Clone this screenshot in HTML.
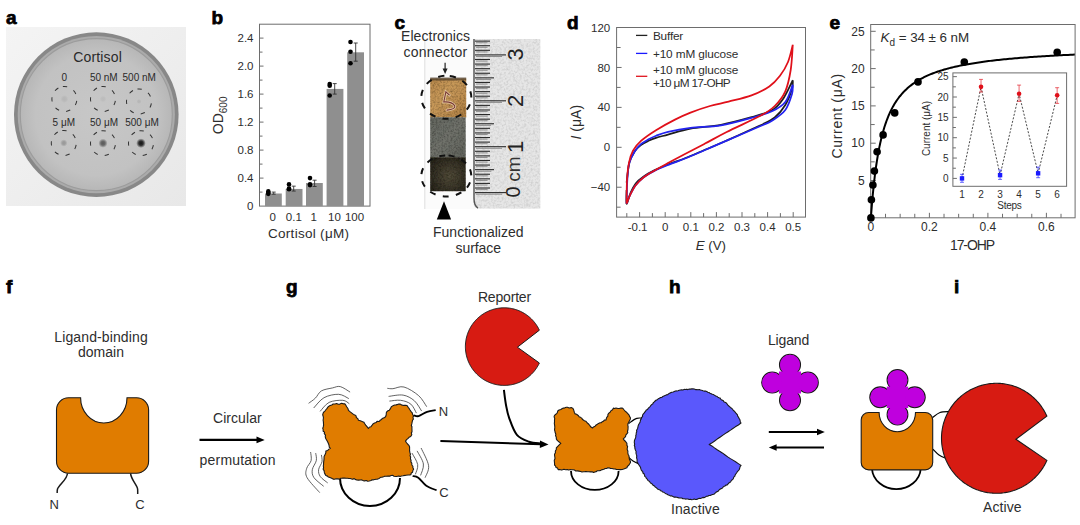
<!DOCTYPE html>
<html><head><meta charset="utf-8"><style>
html,body{margin:0;padding:0;background:#fff;width:1080px;height:525px;overflow:hidden}
svg{display:block;font-family:"Liberation Sans", sans-serif}
</style></head><body>
<svg width="1080" height="525" viewBox="0 0 1080 525">
<text x="6" y="24.1" font-size="19" font-weight="bold" fill="#000" stroke="#000" stroke-width="0.75">a</text>
<text x="211.5" y="24.2" font-size="19" font-weight="bold" fill="#000" stroke="#000" stroke-width="0.75">b</text>
<text x="394.5" y="28.6" font-size="19" font-weight="bold" fill="#000" stroke="#000" stroke-width="0.75">c</text>
<text x="567" y="29.1" font-size="19" font-weight="bold" fill="#000" stroke="#000" stroke-width="0.75">d</text>
<text x="829.5" y="29.3" font-size="19" font-weight="bold" fill="#000" stroke="#000" stroke-width="0.75">e</text>
<text x="6" y="292.8" font-size="19" font-weight="bold" fill="#000" stroke="#000" stroke-width="0.75">f</text>
<text x="286" y="292.8" font-size="19" font-weight="bold" fill="#000" stroke="#000" stroke-width="0.75">g</text>
<text x="669" y="292.9" font-size="19" font-weight="bold" fill="#000" stroke="#000" stroke-width="0.75">h</text>
<text x="954" y="292.9" font-size="19" font-weight="bold" fill="#000" stroke="#000" stroke-width="0.75">i</text>
<defs>
<linearGradient id="bgA" x1="0" y1="0" x2="1" y2="1"><stop offset="0" stop-color="#f4f4f4"/><stop offset="1" stop-color="#e8e8e8"/></linearGradient>
<radialGradient id="plate" cx="0.5" cy="0.5" r="0.5"><stop offset="0" stop-color="#c7c7c7"/><stop offset="0.8" stop-color="#c2c2c2"/><stop offset="1" stop-color="#b7b7b7"/></radialGradient>
<radialGradient id="spot" cx="0.5" cy="0.5" r="0.5"><stop offset="0" stop-color="#000" stop-opacity="1"/><stop offset="0.45" stop-color="#000" stop-opacity="0.85"/><stop offset="1" stop-color="#000" stop-opacity="0"/></radialGradient>
</defs>
<rect x="6" y="27" width="180" height="179" fill="url(#bgA)"/>
<circle cx="96.3" cy="114.6" r="82.3" fill="#888"/>
<circle cx="96.3" cy="114.6" r="78.6" fill="#ababab"/>
<circle cx="96.3" cy="114.6" r="76" fill="url(#plate)" stroke="#9c9c9c" stroke-width="1.1"/>
<text x="97.5" y="61.6" font-size="14" text-anchor="middle" font-weight="normal" fill="#2a2a2a" textLength="48.5">Cortisol</text>
<text x="64.2" y="80.6" font-size="10" text-anchor="middle" font-weight="normal" fill="#2a2a2a" >0</text>
<text x="103.8" y="80.6" font-size="10" text-anchor="middle" font-weight="normal" fill="#2a2a2a" >50 nM</text>
<text x="139.2" y="80.6" font-size="10" text-anchor="middle" font-weight="normal" fill="#2a2a2a" >500 nM</text>
<text x="63.8" y="125.7" font-size="10" text-anchor="middle" font-weight="normal" fill="#2a2a2a" >5 μM</text>
<text x="104" y="125.7" font-size="10" text-anchor="middle" font-weight="normal" fill="#2a2a2a" >50 μM</text>
<text x="142" y="125.7" font-size="10" text-anchor="middle" font-weight="normal" fill="#2a2a2a" >500 μM</text>
<circle cx="64.4" cy="99" r="12.5" fill="none" stroke="#333" stroke-width="1" stroke-dasharray="4.3 7.2" transform="rotate(-97 64.4 99)"/>
<circle cx="64.4" cy="99" r="4.02" fill="url(#spot)" opacity="0.07"/>
<circle cx="103" cy="99" r="12.5" fill="none" stroke="#333" stroke-width="1" stroke-dasharray="4.3 7.2" transform="rotate(-97 103 99)"/>
<circle cx="103" cy="99" r="3.45" fill="url(#spot)" opacity="0.05"/>
<circle cx="139" cy="101.5" r="12.5" fill="none" stroke="#333" stroke-width="1" stroke-dasharray="4.3 7.2" transform="rotate(-97 139 101.5)"/>
<circle cx="139" cy="101.5" r="2.53" fill="url(#spot)" opacity="0.07"/>
<circle cx="63.8" cy="143" r="12.5" fill="none" stroke="#333" stroke-width="1" stroke-dasharray="4.3 7.2" transform="rotate(-97 63.8 143)"/>
<circle cx="63.8" cy="143" r="3.68" fill="url(#spot)" opacity="0.22"/>
<circle cx="103" cy="143.2" r="12.5" fill="none" stroke="#333" stroke-width="1" stroke-dasharray="4.3 7.2" transform="rotate(-97 103 143.2)"/>
<circle cx="103" cy="143.2" r="4.6" fill="url(#spot)" opacity="0.55"/>
<circle cx="141" cy="143.2" r="12.5" fill="none" stroke="#333" stroke-width="1" stroke-dasharray="4.3 7.2" transform="rotate(-97 141 143.2)"/>
<circle cx="141" cy="143.2" r="4.83" fill="url(#spot)" opacity="0.9"/>
<!--END_A-->
<rect x="259.5" y="24.2" width="110.5" height="181.9" fill="none" stroke="#6d6d6d" stroke-width="1"/>
<text x="253.5" y="210.3" font-size="11.5" text-anchor="end" font-weight="normal" fill="#2d2d2d" >0</text>
<line x1="259.5" y1="192.1" x2="262.5" y2="192.1" stroke="#6d6d6d" stroke-width="1"/>
<line x1="259.5" y1="178.1" x2="263.5" y2="178.1" stroke="#6d6d6d" stroke-width="1"/>
<text x="253.5" y="182.3" font-size="11.5" text-anchor="end" font-weight="normal" fill="#2d2d2d" >0.4</text>
<line x1="259.5" y1="164.1" x2="262.5" y2="164.1" stroke="#6d6d6d" stroke-width="1"/>
<line x1="259.5" y1="150.1" x2="263.5" y2="150.1" stroke="#6d6d6d" stroke-width="1"/>
<text x="253.5" y="154.3" font-size="11.5" text-anchor="end" font-weight="normal" fill="#2d2d2d" >0.8</text>
<line x1="259.5" y1="136.1" x2="262.5" y2="136.1" stroke="#6d6d6d" stroke-width="1"/>
<line x1="259.5" y1="122.1" x2="263.5" y2="122.1" stroke="#6d6d6d" stroke-width="1"/>
<text x="253.5" y="126.3" font-size="11.5" text-anchor="end" font-weight="normal" fill="#2d2d2d" >1.2</text>
<line x1="259.5" y1="108.1" x2="262.5" y2="108.1" stroke="#6d6d6d" stroke-width="1"/>
<line x1="259.5" y1="94.1" x2="263.5" y2="94.1" stroke="#6d6d6d" stroke-width="1"/>
<text x="253.5" y="98.3" font-size="11.5" text-anchor="end" font-weight="normal" fill="#2d2d2d" >1.6</text>
<line x1="259.5" y1="80.1" x2="262.5" y2="80.1" stroke="#6d6d6d" stroke-width="1"/>
<line x1="259.5" y1="66.1" x2="263.5" y2="66.1" stroke="#6d6d6d" stroke-width="1"/>
<text x="253.5" y="70.3" font-size="11.5" text-anchor="end" font-weight="normal" fill="#2d2d2d" >2.0</text>
<line x1="259.5" y1="52.1" x2="262.5" y2="52.1" stroke="#6d6d6d" stroke-width="1"/>
<line x1="259.5" y1="38.1" x2="263.5" y2="38.1" stroke="#6d6d6d" stroke-width="1"/>
<text x="253.5" y="42.3" font-size="11.5" text-anchor="end" font-weight="normal" fill="#2d2d2d" >2.4</text>
<rect x="265" y="193.5" width="16.8" height="12.6" fill="#8f8f8f"/>
<rect x="285.7" y="188.95" width="16.8" height="17.15" fill="#8f8f8f"/>
<rect x="306" y="183" width="16.8" height="23.1" fill="#8f8f8f"/>
<rect x="326.6" y="88.92" width="16.8" height="117.18" fill="#8f8f8f"/>
<rect x="347.2" y="52.31" width="16.8" height="153.79" fill="#8f8f8f"/>
<path d="M273.7,194.2 V192.1 M271.7,194.2 h4 M271.7,192.1 h4" stroke="#333" stroke-width="0.9" fill="none"/>
<circle cx="268.3" cy="191.4" r="2.3" fill="#000"/>
<circle cx="268.3" cy="192.8" r="2.3" fill="#000"/>
<circle cx="268.3" cy="193.85" r="2.3" fill="#000"/>
<path d="M293.7,191.05 V186.15 M291.7,191.05 h4 M291.7,186.15 h4" stroke="#333" stroke-width="0.9" fill="none"/>
<circle cx="289" cy="184.4" r="2.3" fill="#000"/>
<circle cx="289" cy="189.3" r="2.3" fill="#000"/>
<circle cx="289" cy="188.6" r="2.3" fill="#000"/>
<path d="M314.6,186.5 V180.2 M312.6,186.5 h4 M312.6,180.2 h4" stroke="#333" stroke-width="0.9" fill="none"/>
<circle cx="310" cy="178.1" r="2.3" fill="#000"/>
<circle cx="310" cy="184.4" r="2.3" fill="#000"/>
<circle cx="310" cy="185.1" r="2.3" fill="#000"/>
<path d="M334.7,94.1 V83.6 M332.7,94.1 h4 M332.7,83.6 h4" stroke="#333" stroke-width="0.9" fill="none"/>
<circle cx="329.7" cy="83.95" r="2.3" fill="#000"/>
<circle cx="329.7" cy="85.7" r="2.3" fill="#000"/>
<circle cx="329.7" cy="95.5" r="2.3" fill="#000"/>
<path d="M355.7,61.2 V43 M353.7,61.2 h4 M353.7,43 h4" stroke="#333" stroke-width="0.9" fill="none"/>
<circle cx="350.5" cy="41.95" r="2.3" fill="#000"/>
<circle cx="350.5" cy="51.75" r="2.3" fill="#000"/>
<circle cx="350.5" cy="63.3" r="2.3" fill="#000"/>
<text x="272.8" y="221.3" font-size="11.5" text-anchor="middle" font-weight="normal" fill="#2d2d2d" >0</text>
<text x="293.8" y="221.3" font-size="11.5" text-anchor="middle" font-weight="normal" fill="#2d2d2d" >0.1</text>
<text x="313.8" y="221.3" font-size="11.5" text-anchor="middle" font-weight="normal" fill="#2d2d2d" >1</text>
<text x="334.5" y="221.3" font-size="11.5" text-anchor="middle" font-weight="normal" fill="#2d2d2d" >10</text>
<text x="354.5" y="221.3" font-size="11.5" text-anchor="middle" font-weight="normal" fill="#2d2d2d" >100</text>
<text x="308.5" y="238.3" font-size="13.5" text-anchor="middle" font-weight="normal" fill="#2d2d2d" textLength="81">Cortisol (μM)</text>
<text transform="translate(223.3,134.2) rotate(-90)" font-size="14" fill="#2d2d2d">OD<tspan font-size="10" dy="4">600</tspan></text>
<!--END_B-->
<defs>
<linearGradient id="gold" x1="0" y1="0" x2="1" y2="1"><stop offset="0" stop-color="#b8894c"/><stop offset="0.4" stop-color="#c8995a"/><stop offset="0.75" stop-color="#bb8b4e"/><stop offset="1" stop-color="#a87a40"/></linearGradient>
<linearGradient id="grayS" x1="0" y1="0" x2="1" y2="1"><stop offset="0" stop-color="#62655e"/><stop offset="0.5" stop-color="#70726b"/><stop offset="1" stop-color="#60625b"/></linearGradient>
<radialGradient id="darkS" cx="0.55" cy="0.55" r="0.65"><stop offset="0" stop-color="#514b39"/><stop offset="1" stop-color="#28251d"/></radialGradient>
<filter id="tex" x="0" y="0" width="100%" height="100%"><feTurbulence type="fractalNoise" baseFrequency="0.55" numOctaves="2" seed="4" result="n"/><feColorMatrix in="n" type="matrix" values="0 0 0 0 0  0 0 0 0 0  0 0 0 0 0  0 0 0 1.1 -0.42" result="a"/><feComposite in="a" in2="SourceGraphic" operator="in" result="b"/><feMerge><feMergeNode in="SourceGraphic"/><feMergeNode in="b"/></feMerge></filter>
<filter id="texL" x="0" y="0" width="100%" height="100%"><feTurbulence type="fractalNoise" baseFrequency="0.45" numOctaves="2" seed="8" result="n"/><feColorMatrix in="n" type="matrix" values="0 0 0 0 0  0 0 0 0 0  0 0 0 0 0  0 0 0 0.5 -0.2" result="a"/><feComposite in="a" in2="SourceGraphic" operator="in" result="b"/><feMerge><feMergeNode in="SourceGraphic"/><feMergeNode in="b"/></feMerge></filter>
</defs>
<rect x="424.5" y="39" width="116" height="170" fill="#fbfbfb"/>
<line x1="424.8" y1="39" x2="424.8" y2="209" stroke="#d8d8d8" stroke-width="0.8"/>
<path d="M473.4,39 H540.3 V208.5 H478 Q473.4,208.5 473.4,202 Z" fill="#e6e6e6" filter="url(#texL)"/>
<path d="M474,39 V198 Q474,206 478,208" stroke="#555" stroke-width="1.4" fill="none"/>
<line x1="475" y1="192.6" x2="506" y2="192.6" stroke="#2a2a2a" stroke-width="1.1"/>
<line x1="476" y1="194.2" x2="502" y2="194.2" stroke="#777" stroke-width="0.8"/>
<line x1="475" y1="188.01" x2="490" y2="188.01" stroke="#2a2a2a" stroke-width="1.1"/>
<line x1="476" y1="189.61" x2="487.6" y2="189.61" stroke="#777" stroke-width="0.8"/>
<line x1="475" y1="183.42" x2="490" y2="183.42" stroke="#2a2a2a" stroke-width="1.1"/>
<line x1="476" y1="185.02" x2="487.6" y2="185.02" stroke="#777" stroke-width="0.8"/>
<line x1="475" y1="178.83" x2="490" y2="178.83" stroke="#2a2a2a" stroke-width="1.1"/>
<line x1="476" y1="180.43" x2="487.6" y2="180.43" stroke="#777" stroke-width="0.8"/>
<line x1="475" y1="174.24" x2="490" y2="174.24" stroke="#2a2a2a" stroke-width="1.1"/>
<line x1="476" y1="175.84" x2="487.6" y2="175.84" stroke="#777" stroke-width="0.8"/>
<line x1="475" y1="169.65" x2="494" y2="169.65" stroke="#2a2a2a" stroke-width="1.1"/>
<line x1="476" y1="171.25" x2="491.2" y2="171.25" stroke="#777" stroke-width="0.8"/>
<line x1="475" y1="165.06" x2="490" y2="165.06" stroke="#2a2a2a" stroke-width="1.1"/>
<line x1="476" y1="166.66" x2="487.6" y2="166.66" stroke="#777" stroke-width="0.8"/>
<line x1="475" y1="160.47" x2="490" y2="160.47" stroke="#2a2a2a" stroke-width="1.1"/>
<line x1="476" y1="162.07" x2="487.6" y2="162.07" stroke="#777" stroke-width="0.8"/>
<line x1="475" y1="155.88" x2="490" y2="155.88" stroke="#2a2a2a" stroke-width="1.1"/>
<line x1="476" y1="157.48" x2="487.6" y2="157.48" stroke="#777" stroke-width="0.8"/>
<line x1="475" y1="151.29" x2="490" y2="151.29" stroke="#2a2a2a" stroke-width="1.1"/>
<line x1="476" y1="152.89" x2="487.6" y2="152.89" stroke="#777" stroke-width="0.8"/>
<line x1="475" y1="146.7" x2="506" y2="146.7" stroke="#2a2a2a" stroke-width="1.1"/>
<line x1="476" y1="148.3" x2="502" y2="148.3" stroke="#777" stroke-width="0.8"/>
<line x1="475" y1="142.11" x2="490" y2="142.11" stroke="#2a2a2a" stroke-width="1.1"/>
<line x1="476" y1="143.71" x2="487.6" y2="143.71" stroke="#777" stroke-width="0.8"/>
<line x1="475" y1="137.52" x2="490" y2="137.52" stroke="#2a2a2a" stroke-width="1.1"/>
<line x1="476" y1="139.12" x2="487.6" y2="139.12" stroke="#777" stroke-width="0.8"/>
<line x1="475" y1="132.93" x2="490" y2="132.93" stroke="#2a2a2a" stroke-width="1.1"/>
<line x1="476" y1="134.53" x2="487.6" y2="134.53" stroke="#777" stroke-width="0.8"/>
<line x1="475" y1="128.34" x2="490" y2="128.34" stroke="#2a2a2a" stroke-width="1.1"/>
<line x1="476" y1="129.94" x2="487.6" y2="129.94" stroke="#777" stroke-width="0.8"/>
<line x1="475" y1="123.75" x2="494" y2="123.75" stroke="#2a2a2a" stroke-width="1.1"/>
<line x1="476" y1="125.35" x2="491.2" y2="125.35" stroke="#777" stroke-width="0.8"/>
<line x1="475" y1="119.16" x2="490" y2="119.16" stroke="#2a2a2a" stroke-width="1.1"/>
<line x1="476" y1="120.76" x2="487.6" y2="120.76" stroke="#777" stroke-width="0.8"/>
<line x1="475" y1="114.57" x2="490" y2="114.57" stroke="#2a2a2a" stroke-width="1.1"/>
<line x1="476" y1="116.17" x2="487.6" y2="116.17" stroke="#777" stroke-width="0.8"/>
<line x1="475" y1="109.98" x2="490" y2="109.98" stroke="#2a2a2a" stroke-width="1.1"/>
<line x1="476" y1="111.58" x2="487.6" y2="111.58" stroke="#777" stroke-width="0.8"/>
<line x1="475" y1="105.39" x2="490" y2="105.39" stroke="#2a2a2a" stroke-width="1.1"/>
<line x1="476" y1="106.99" x2="487.6" y2="106.99" stroke="#777" stroke-width="0.8"/>
<line x1="475" y1="100.8" x2="506" y2="100.8" stroke="#2a2a2a" stroke-width="1.1"/>
<line x1="476" y1="102.4" x2="502" y2="102.4" stroke="#777" stroke-width="0.8"/>
<line x1="475" y1="96.21" x2="490" y2="96.21" stroke="#2a2a2a" stroke-width="1.1"/>
<line x1="476" y1="97.81" x2="487.6" y2="97.81" stroke="#777" stroke-width="0.8"/>
<line x1="475" y1="91.62" x2="490" y2="91.62" stroke="#2a2a2a" stroke-width="1.1"/>
<line x1="476" y1="93.22" x2="487.6" y2="93.22" stroke="#777" stroke-width="0.8"/>
<line x1="475" y1="87.03" x2="490" y2="87.03" stroke="#2a2a2a" stroke-width="1.1"/>
<line x1="476" y1="88.63" x2="487.6" y2="88.63" stroke="#777" stroke-width="0.8"/>
<line x1="475" y1="82.44" x2="490" y2="82.44" stroke="#2a2a2a" stroke-width="1.1"/>
<line x1="476" y1="84.04" x2="487.6" y2="84.04" stroke="#777" stroke-width="0.8"/>
<line x1="475" y1="77.85" x2="494" y2="77.85" stroke="#2a2a2a" stroke-width="1.1"/>
<line x1="476" y1="79.45" x2="491.2" y2="79.45" stroke="#777" stroke-width="0.8"/>
<line x1="475" y1="73.26" x2="490" y2="73.26" stroke="#2a2a2a" stroke-width="1.1"/>
<line x1="476" y1="74.86" x2="487.6" y2="74.86" stroke="#777" stroke-width="0.8"/>
<line x1="475" y1="68.67" x2="490" y2="68.67" stroke="#2a2a2a" stroke-width="1.1"/>
<line x1="476" y1="70.27" x2="487.6" y2="70.27" stroke="#777" stroke-width="0.8"/>
<line x1="475" y1="64.08" x2="490" y2="64.08" stroke="#2a2a2a" stroke-width="1.1"/>
<line x1="476" y1="65.68" x2="487.6" y2="65.68" stroke="#777" stroke-width="0.8"/>
<line x1="475" y1="59.49" x2="490" y2="59.49" stroke="#2a2a2a" stroke-width="1.1"/>
<line x1="476" y1="61.09" x2="487.6" y2="61.09" stroke="#777" stroke-width="0.8"/>
<line x1="475" y1="54.9" x2="506" y2="54.9" stroke="#2a2a2a" stroke-width="1.1"/>
<line x1="476" y1="56.5" x2="502" y2="56.5" stroke="#777" stroke-width="0.8"/>
<line x1="475" y1="50.31" x2="490" y2="50.31" stroke="#2a2a2a" stroke-width="1.1"/>
<line x1="476" y1="51.91" x2="487.6" y2="51.91" stroke="#777" stroke-width="0.8"/>
<line x1="475" y1="45.72" x2="490" y2="45.72" stroke="#2a2a2a" stroke-width="1.1"/>
<line x1="476" y1="47.32" x2="487.6" y2="47.32" stroke="#777" stroke-width="0.8"/>
<line x1="475" y1="41.13" x2="490" y2="41.13" stroke="#2a2a2a" stroke-width="1.1"/>
<line x1="476" y1="42.73" x2="487.6" y2="42.73" stroke="#777" stroke-width="0.8"/>
<text transform="translate(522.8,54.4) rotate(-90)" font-size="22" text-anchor="middle" fill="#222">3</text>
<text transform="translate(522.8,100.8) rotate(-90)" font-size="22" text-anchor="middle" fill="#222">2</text>
<text transform="translate(522.8,146.8) rotate(-90)" font-size="22" text-anchor="middle" fill="#222">1</text>
<text transform="translate(520,192) rotate(-90)" font-size="20" text-anchor="middle" fill="#222">0</text>
<text transform="translate(520,169) rotate(-90)" font-size="19" text-anchor="middle" fill="#333">cm</text>
<rect x="430.2" y="78.5" width="36" height="39" fill="url(#gold)" filter="url(#tex)"/>
<rect x="430.2" y="77.5" width="36" height="3" fill="#4a3a28" opacity="0.7"/>
<rect x="430.2" y="117.3" width="35.5" height="40" fill="url(#grayS)" filter="url(#tex)"/>
<rect x="430.2" y="157.2" width="35.5" height="34" fill="url(#darkS)" filter="url(#tex)"/>
<path d="M449.3,95 L445.9,91.9 L443.8,102 Q451.5,101.3 454.8,105.8 Q455.5,109.3 447,110.1" stroke="#f0dcc0" stroke-width="2.6" fill="none" stroke-linecap="round" opacity="0.8"/>
<path d="M449.3,95 L445.9,91.9 L443.8,102 Q451.5,101.3 454.8,105.8 Q455.5,109.3 447,110.1" stroke="#7a3a34" stroke-width="1.1" fill="none" stroke-linecap="round"/>
<ellipse cx="446.3" cy="97.3" rx="21.5" ry="25" fill="none" stroke="#111" stroke-width="2" stroke-dasharray="6.2 7.16" stroke-dashoffset="9.8" transform="rotate(-90 446.3 97.3)"/>
<ellipse cx="446.3" cy="176" rx="20.5" ry="25" fill="none" stroke="#111" stroke-width="2" stroke-dasharray="6 7.3" stroke-dashoffset="11" transform="rotate(-90 446.3 176)"/>
<path d="M445.1,62.8 V69" stroke="#222" stroke-width="1.2"/><path d="M442.6,68.4 L445.1,74 L447.6,68.4 Z" fill="#222"/>
<path d="M444,201.2 L451.1,219.4 L436.8,219.4 Z" fill="#000"/>
<text x="435.5" y="41" font-size="14" text-anchor="middle" font-weight="normal" fill="#2d2d2d" textLength="69">Electronics</text>
<text x="435.3" y="56.6" font-size="14" text-anchor="middle" font-weight="normal" fill="#2d2d2d" textLength="63.8">connector</text>
<text x="478.3" y="237" font-size="14" text-anchor="middle" font-weight="normal" fill="#2d2d2d" textLength="90.7">Functionalized</text>
<text x="478.3" y="252.6" font-size="14" text-anchor="middle" font-weight="normal" fill="#2d2d2d" textLength="45.5">surface</text>
<!--END_C-->
<rect x="616.6" y="27.5" width="188.9" height="189.6" fill="none" stroke="#6d6d6d" stroke-width="1"/>
<line x1="616.6" y1="207.18" x2="620.6" y2="207.18" stroke="#6d6d6d"/>
<line x1="616.6" y1="187.22" x2="621.6" y2="187.22" stroke="#6d6d6d"/>
<text x="610.2" y="191.32" font-size="11.5" text-anchor="end" font-weight="normal" fill="#2d2d2d" >−40</text>
<line x1="616.6" y1="167.26" x2="620.6" y2="167.26" stroke="#6d6d6d"/>
<line x1="616.6" y1="147.3" x2="621.6" y2="147.3" stroke="#6d6d6d"/>
<text x="610.2" y="151.4" font-size="11.5" text-anchor="end" font-weight="normal" fill="#2d2d2d" >0</text>
<line x1="616.6" y1="127.34" x2="620.6" y2="127.34" stroke="#6d6d6d"/>
<line x1="616.6" y1="107.38" x2="621.6" y2="107.38" stroke="#6d6d6d"/>
<text x="610.2" y="111.48" font-size="11.5" text-anchor="end" font-weight="normal" fill="#2d2d2d" >40</text>
<line x1="616.6" y1="87.42" x2="620.6" y2="87.42" stroke="#6d6d6d"/>
<line x1="616.6" y1="67.46" x2="621.6" y2="67.46" stroke="#6d6d6d"/>
<text x="610.2" y="71.56" font-size="11.5" text-anchor="end" font-weight="normal" fill="#2d2d2d" >80</text>
<line x1="616.6" y1="47.5" x2="620.6" y2="47.5" stroke="#6d6d6d"/>
<text x="610.2" y="31.64" font-size="11.5" text-anchor="end" font-weight="normal" fill="#2d2d2d" >120</text>
<line x1="626.8" y1="217.1" x2="626.8" y2="213.1" stroke="#6d6d6d"/>
<line x1="639.6" y1="217.1" x2="639.6" y2="212.1" stroke="#6d6d6d"/>
<text x="637.6" y="231" font-size="11.5" text-anchor="middle" font-weight="normal" fill="#2d2d2d" >-0.1</text>
<line x1="652.4" y1="217.1" x2="652.4" y2="213.1" stroke="#6d6d6d"/>
<line x1="665.2" y1="217.1" x2="665.2" y2="212.1" stroke="#6d6d6d"/>
<text x="665.2" y="231" font-size="11.5" text-anchor="middle" font-weight="normal" fill="#2d2d2d" >0</text>
<line x1="678" y1="217.1" x2="678" y2="213.1" stroke="#6d6d6d"/>
<line x1="690.8" y1="217.1" x2="690.8" y2="212.1" stroke="#6d6d6d"/>
<text x="690.8" y="231" font-size="11.5" text-anchor="middle" font-weight="normal" fill="#2d2d2d" >0.1</text>
<line x1="703.6" y1="217.1" x2="703.6" y2="213.1" stroke="#6d6d6d"/>
<line x1="716.4" y1="217.1" x2="716.4" y2="212.1" stroke="#6d6d6d"/>
<text x="716.4" y="231" font-size="11.5" text-anchor="middle" font-weight="normal" fill="#2d2d2d" >0.2</text>
<line x1="729.2" y1="217.1" x2="729.2" y2="213.1" stroke="#6d6d6d"/>
<line x1="742" y1="217.1" x2="742" y2="212.1" stroke="#6d6d6d"/>
<text x="742" y="231" font-size="11.5" text-anchor="middle" font-weight="normal" fill="#2d2d2d" >0.3</text>
<line x1="754.8" y1="217.1" x2="754.8" y2="213.1" stroke="#6d6d6d"/>
<line x1="767.6" y1="217.1" x2="767.6" y2="212.1" stroke="#6d6d6d"/>
<text x="767.6" y="231" font-size="11.5" text-anchor="middle" font-weight="normal" fill="#2d2d2d" >0.4</text>
<line x1="780.4" y1="217.1" x2="780.4" y2="213.1" stroke="#6d6d6d"/>
<line x1="793.2" y1="217.1" x2="793.2" y2="212.1" stroke="#6d6d6d"/>
<text x="793.2" y="231" font-size="11.5" text-anchor="middle" font-weight="normal" fill="#2d2d2d" >0.5</text>
<text x="710.8" y="250.2" font-size="13.3" text-anchor="middle" fill="#2d2d2d"><tspan font-style="italic">E</tspan> (V)</text>
<text transform="translate(581.3,122.2) rotate(-90)" font-size="14" text-anchor="middle" fill="#2d2d2d"><tspan font-style="italic">I</tspan> (μA)</text>
<line x1="636" y1="35.4" x2="647.3" y2="35.4" stroke="#222" stroke-width="1.3"/>
<line x1="636" y1="53.4" x2="647.3" y2="53.4" stroke="#1a1aff" stroke-width="1.3"/>
<line x1="636" y1="76.3" x2="647.3" y2="76.3" stroke="#e0141e" stroke-width="1.3"/>
<text x="652.9" y="39.7" font-size="11.8" text-anchor="start" font-weight="normal" fill="#2d2d2d" textLength="30.4">Buffer</text>
<text x="652.9" y="57.7" font-size="11.8" text-anchor="start" font-weight="normal" fill="#2d2d2d" textLength="85.4">+10 mM glucose</text>
<text x="652.9" y="74.3" font-size="11.8" text-anchor="start" font-weight="normal" fill="#2d2d2d" textLength="85.4">+10 mM glucose</text>
<text x="652.9" y="87" font-size="11.8" text-anchor="start" font-weight="normal" fill="#2d2d2d" textLength="77.8">+10 μM 17-OHP</text>
<path d="M626.6,182.7 C627.07,179.33 628.03,167.75 629.4,162.5 C630.77,157.25 632.88,154.12 634.8,151.2 C636.72,148.28 638.62,146.73 640.9,145 C643.18,143.27 645.98,142 648.5,140.8 C651.02,139.6 652.75,138.83 656,137.8 C659.25,136.77 662.25,136.13 668,134.6 C673.75,133.07 681.67,130.23 690.5,128.6 C699.33,126.97 710.83,126.7 721,124.8 C731.17,122.9 743,119.63 751.5,117.2 C760,114.77 766.8,113.15 772,110.2 C777.2,107.25 779.23,104.52 782.7,99.5 C786.17,94.48 791.12,83.33 792.8,80.1 M792.8,80.1 C792.67,81.58 793.25,84.85 792,89 C790.75,93.15 788.18,100.25 785.3,105 C782.42,109.75 778.92,114.08 774.7,117.5 C770.48,120.92 768,121.67 760,125.5 C752,129.33 735.87,136.45 726.7,140.5 C717.53,144.55 711.95,146.83 705,149.8 C698.05,152.77 691,155.93 685,158.3 C679,160.67 674.12,161.98 669,164 C663.88,166.02 658.52,168.32 654.3,170.4 C650.08,172.48 646.8,174.32 643.7,176.5 C640.6,178.68 637.93,180.67 635.7,183.5 C633.47,186.33 631.82,190.13 630.3,193.5 C628.78,196.87 627.22,204.28 626.6,203.7 C625.98,203.12 626.6,192.28 626.6,190" stroke="#1e1e1e" stroke-width="1.75" fill="none" stroke-linejoin="round"/>
<path d="M626.6,203.7 C626.7,200.08 626.8,188.62 627.2,182 C627.6,175.38 627.82,169 629,164 C630.18,159 632.32,155.3 634.3,152 C636.28,148.7 638.53,146.32 640.9,144.2 C643.27,142.08 645.97,140.72 648.5,139.3 C651.03,137.88 652.85,136.95 656.1,135.7 C659.35,134.45 662.27,133.1 668,131.8 C673.73,130.5 681.67,128.98 690.5,127.9 C699.33,126.82 710.83,126.97 721,125.3 C731.17,123.63 743,120.23 751.5,117.9 C760,115.57 766.37,113.95 772,111.3 C777.63,108.65 781.83,106.43 785.3,102 C788.77,97.57 791.55,87.58 792.8,84.7 M792.8,84.7 C792.67,86.25 793.25,89.78 792,94 C790.75,98.22 788.63,105.55 785.3,110 C781.97,114.45 776.22,117.98 772,120.7 C767.78,123.42 767.55,122.98 760,126.3 C752.45,129.62 735.87,136.65 726.7,140.6 C717.53,144.55 711.95,147.02 705,150 C698.05,152.98 691,156.07 685,158.5 C679,160.93 674.12,162.53 669,164.6 C663.88,166.67 658.52,168.78 654.3,170.9 C650.08,173.02 646.8,174.9 643.7,177.3 C640.6,179.7 637.93,182.4 635.7,185.3 C633.47,188.2 631.82,191.63 630.3,194.7 C628.78,197.77 627.22,202.2 626.6,203.7" stroke="#2323f0" stroke-width="1.75" fill="none" stroke-linejoin="round"/>
<path d="M626.6,203.7 C626.67,199.75 626.6,186.83 627,180 C627.4,173.17 628,167.58 629,162.7 C630,157.82 631,154.33 633,150.7 C635,147.07 637.17,144.32 641,140.9 C644.83,137.48 650.33,133.75 656,130.2 C661.67,126.65 669.25,122.53 675,119.6 C680.75,116.67 684.67,114.87 690.5,112.6 C696.33,110.33 703.65,107.83 710,106 C716.35,104.17 721.68,103.37 728.6,101.6 C735.52,99.83 744.72,97.92 751.5,95.4 C758.28,92.88 764.55,89.77 769.3,86.5 C774.05,83.23 776.88,79.88 780,75.8 C783.12,71.72 785.87,67.18 788,62 C790.13,56.82 792,47.58 792.8,44.7 M792.8,44.7 C792.45,48.92 791.95,62.23 790.7,70 C789.45,77.77 787.97,85.3 785.3,91.3 C782.63,97.3 778.7,102 774.7,106 C770.7,110 769.3,110.97 761.3,115.3 C753.3,119.63 736.08,127.28 726.7,132 C717.32,136.72 711.95,139.93 705,143.6 C698.05,147.27 691,150.83 685,154 C679,157.17 674.12,159.82 669,162.6 C663.88,165.38 658.52,168.25 654.3,170.7 C650.08,173.15 646.8,174.87 643.7,177.3 C640.6,179.73 637.93,182.4 635.7,185.3 C633.47,188.2 631.82,191.63 630.3,194.7 C628.78,197.77 627.22,202.2 626.6,203.7" stroke="#e0101a" stroke-width="1.75" fill="none" stroke-linejoin="round"/>
<!--END_D-->
<rect x="870.7" y="24.5" width="204.4" height="193.3" fill="none" stroke="#6d6d6d" stroke-width="1"/>
<line x1="870.7" y1="199.15" x2="874.7" y2="199.15" stroke="#6d6d6d"/>
<line x1="870.7" y1="180.5" x2="875.7" y2="180.5" stroke="#6d6d6d"/>
<text x="864.6" y="184.7" font-size="12" text-anchor="end" font-weight="normal" fill="#2d2d2d" >5</text>
<line x1="870.7" y1="161.85" x2="874.7" y2="161.85" stroke="#6d6d6d"/>
<line x1="870.7" y1="143.2" x2="875.7" y2="143.2" stroke="#6d6d6d"/>
<text x="864.6" y="147.4" font-size="12" text-anchor="end" font-weight="normal" fill="#2d2d2d" >10</text>
<line x1="870.7" y1="124.55" x2="874.7" y2="124.55" stroke="#6d6d6d"/>
<line x1="870.7" y1="105.9" x2="875.7" y2="105.9" stroke="#6d6d6d"/>
<text x="864.6" y="110.1" font-size="12" text-anchor="end" font-weight="normal" fill="#2d2d2d" >15</text>
<line x1="870.7" y1="87.25" x2="874.7" y2="87.25" stroke="#6d6d6d"/>
<line x1="870.7" y1="68.6" x2="875.7" y2="68.6" stroke="#6d6d6d"/>
<text x="864.6" y="72.8" font-size="12" text-anchor="end" font-weight="normal" fill="#2d2d2d" >20</text>
<line x1="870.7" y1="49.95" x2="874.7" y2="49.95" stroke="#6d6d6d"/>
<line x1="870.7" y1="31.3" x2="875.7" y2="31.3" stroke="#6d6d6d"/>
<text x="864.6" y="35.5" font-size="12" text-anchor="end" font-weight="normal" fill="#2d2d2d" >25</text>
<text x="870.9" y="231.1" font-size="12" text-anchor="middle" font-weight="normal" fill="#2d2d2d" >0</text>
<line x1="885.52" y1="217.8" x2="885.52" y2="213.8" stroke="#6d6d6d"/>
<line x1="900.15" y1="217.8" x2="900.15" y2="213.8" stroke="#6d6d6d"/>
<line x1="914.77" y1="217.8" x2="914.77" y2="213.8" stroke="#6d6d6d"/>
<line x1="929.4" y1="217.8" x2="929.4" y2="212.8" stroke="#6d6d6d"/>
<text x="929.4" y="231.1" font-size="12" text-anchor="middle" font-weight="normal" fill="#2d2d2d" >0.2</text>
<line x1="944.02" y1="217.8" x2="944.02" y2="213.8" stroke="#6d6d6d"/>
<line x1="958.65" y1="217.8" x2="958.65" y2="213.8" stroke="#6d6d6d"/>
<line x1="973.27" y1="217.8" x2="973.27" y2="213.8" stroke="#6d6d6d"/>
<line x1="987.9" y1="217.8" x2="987.9" y2="212.8" stroke="#6d6d6d"/>
<text x="987.9" y="231.1" font-size="12" text-anchor="middle" font-weight="normal" fill="#2d2d2d" >0.4</text>
<line x1="1002.52" y1="217.8" x2="1002.52" y2="213.8" stroke="#6d6d6d"/>
<line x1="1017.15" y1="217.8" x2="1017.15" y2="213.8" stroke="#6d6d6d"/>
<line x1="1031.78" y1="217.8" x2="1031.78" y2="213.8" stroke="#6d6d6d"/>
<line x1="1046.4" y1="217.8" x2="1046.4" y2="212.8" stroke="#6d6d6d"/>
<text x="1046.4" y="231.1" font-size="12" text-anchor="middle" font-weight="normal" fill="#2d2d2d" >0.6</text>
<line x1="1061.03" y1="217.8" x2="1061.03" y2="213.8" stroke="#6d6d6d"/>
<text x="972.5" y="250" font-size="14" text-anchor="middle" font-weight="normal" fill="#2d2d2d" textLength="45">17-OHP</text>
<text transform="translate(841.8,116.2) rotate(-90)" font-size="14" text-anchor="middle" fill="#2d2d2d" textLength="84.5">Current (μA)</text>
<text x="880.6" y="42.1" font-size="13.4" fill="#2d2d2d"><tspan font-style="italic">K</tspan><tspan font-size="10" dy="4.3">d</tspan><tspan dy="-4.3" textLength="74"> = 34 ± 6 nM</tspan></text>
<path d="M870.9,217.8 L870.9,217.77 L870.91,217.68 L870.92,217.52 L870.94,217.27 L870.96,216.94 L870.99,216.51 L871.03,216 L871.07,215.39 L871.12,214.69 L871.18,213.9 L871.25,213.02 L871.32,212.04 L871.4,210.98 L871.49,209.83 L871.59,208.59 L871.7,207.27 L871.81,205.87 L871.93,204.39 L872.06,202.85 L872.2,201.23 L872.35,199.55 L872.5,197.81 L872.67,196.02 L872.84,194.17 L873.02,192.28 L873.22,190.34 L873.42,188.37 L873.63,186.36 L873.85,184.33 L874.07,182.27 L874.31,180.19 L874.56,178.09 L874.81,175.98 L875.08,173.86 L875.35,171.74 L875.64,169.62 L875.93,167.49 L876.24,165.37 L876.55,163.26 L876.88,161.16 L877.21,159.07 L877.55,157 L877.91,154.94 L878.27,152.9 L878.64,150.89 L879.03,148.89 L879.42,146.92 L879.83,144.97 L880.24,143.05 L880.66,141.16 L881.1,139.29 L881.54,137.46 L882,135.65 L882.47,133.88 L882.94,132.13 L883.43,130.42 L883.93,128.73 L884.43,127.08 L884.95,125.46 L885.48,123.87 L886.02,122.31 L886.57,120.78 L887.13,119.28 L887.71,117.81 L888.29,116.38 L888.88,114.97 L889.49,113.6 L890.1,112.25 L890.73,110.93 L891.37,109.64 L892.02,108.38 L892.68,107.15 L893.35,105.94 L894.03,104.76 L894.72,103.61 L895.43,102.48 L896.14,101.38 L896.87,100.31 L897.61,99.25 L898.36,98.23 L899.12,97.22 L899.89,96.24 L900.68,95.28 L901.47,94.34 L902.28,93.43 L903.09,92.53 L903.92,91.65 L904.76,90.8 L905.62,89.96 L906.48,89.15 L907.36,88.35 L908.24,87.57 L909.14,86.81 L910.05,86.06 L910.98,85.34 L911.91,84.62 L912.85,83.93 L913.81,83.25 L914.78,82.58 L915.76,81.93 L916.76,81.3 L917.76,80.68 L918.78,80.07 L919.81,79.48 L920.85,78.89 L921.9,78.33 L922.96,77.77 L924.04,77.23 L925.13,76.69 L926.23,76.17 L927.34,75.67 L928.47,75.17 L929.6,74.68 L930.75,74.2 L931.91,73.74 L933.09,73.28 L934.27,72.83 L935.47,72.39 L936.68,71.96 L937.9,71.54 L939.14,71.13 L940.38,70.73 L941.64,70.34 L942.91,69.95 L944.2,69.57 L945.49,69.2 L946.8,68.84 L948.12,68.48 L949.46,68.13 L950.8,67.79 L952.16,67.46 L953.53,67.13 L954.91,66.81 L956.31,66.49 L957.72,66.18 L959.14,65.88 L960.57,65.58 L962.02,65.29 L963.48,65 L964.95,64.72 L966.44,64.45 L967.93,64.18 L969.44,63.91 L970.96,63.65 L972.5,63.4 L974.05,63.15 L975.61,62.9 L977.18,62.66 L978.77,62.42 L980.37,62.19 L981.98,61.96 L983.6,61.74 L985.24,61.52 L986.89,61.3 L988.56,61.09 L990.23,60.88 L991.92,60.68 L993.62,60.48 L995.34,60.28 L997.07,60.08 L998.81,59.89 L1000.56,59.71 L1002.33,59.52 L1004.11,59.34 L1005.9,59.16 L1007.71,58.99 L1009.53,58.82 L1011.36,58.65 L1013.21,58.48 L1015.07,58.32 L1016.94,58.16 L1018.83,58 L1020.72,57.84 L1022.64,57.69 L1024.56,57.54 L1026.5,57.39 L1028.45,57.25 L1030.42,57.1 L1032.39,56.96 L1034.39,56.82 L1036.39,56.69 L1038.41,56.55 L1040.44,56.42 L1042.49,56.29 L1044.54,56.16 L1046.62,56.04 L1048.7,55.91 L1050.8,55.79 L1052.91,55.67 L1055.04,55.55 L1057.18,55.44 L1059.33,55.32 L1061.49,55.21 L1063.67,55.1 L1065.87,54.99 L1068.07,54.88 L1070.29,54.77 L1072.53,54.67 L1074.77,54.56" stroke="#000" stroke-width="2" fill="none"/>
<circle cx="870.9" cy="217.9" r="3.8" fill="#000"/>
<circle cx="871.4" cy="199.8" r="3.8" fill="#000"/>
<circle cx="872.9" cy="185" r="3.8" fill="#000"/>
<circle cx="874.4" cy="171.1" r="3.8" fill="#000"/>
<circle cx="877.1" cy="151.8" r="3.8" fill="#000"/>
<circle cx="883.1" cy="134.9" r="3.8" fill="#000"/>
<circle cx="894.7" cy="112.9" r="3.8" fill="#000"/>
<circle cx="918" cy="81.9" r="3.8" fill="#000"/>
<circle cx="964.3" cy="62" r="3.8" fill="#000"/>
<circle cx="1057.2" cy="52.2" r="3.8" fill="#000"/>
<rect x="952.9" y="72.9" width="113.7" height="113.4" fill="#fff" stroke="#6d6d6d" stroke-width="1"/>
<line x1="952.9" y1="178.4" x2="956.9" y2="178.4" stroke="#6d6d6d"/>
<text x="948.5" y="182" font-size="10" text-anchor="end" font-weight="normal" fill="#2d2d2d" >0</text>
<line x1="952.9" y1="168.22" x2="955.9" y2="168.22" stroke="#6d6d6d"/>
<line x1="952.9" y1="158.05" x2="956.9" y2="158.05" stroke="#6d6d6d"/>
<text x="948.5" y="161.65" font-size="10" text-anchor="end" font-weight="normal" fill="#2d2d2d" >5</text>
<line x1="952.9" y1="147.88" x2="955.9" y2="147.88" stroke="#6d6d6d"/>
<line x1="952.9" y1="137.7" x2="956.9" y2="137.7" stroke="#6d6d6d"/>
<text x="948.5" y="141.3" font-size="10" text-anchor="end" font-weight="normal" fill="#2d2d2d" >10</text>
<line x1="952.9" y1="127.53" x2="955.9" y2="127.53" stroke="#6d6d6d"/>
<line x1="952.9" y1="117.35" x2="956.9" y2="117.35" stroke="#6d6d6d"/>
<text x="948.5" y="120.95" font-size="10" text-anchor="end" font-weight="normal" fill="#2d2d2d" >15</text>
<line x1="952.9" y1="107.17" x2="955.9" y2="107.17" stroke="#6d6d6d"/>
<line x1="952.9" y1="97" x2="956.9" y2="97" stroke="#6d6d6d"/>
<text x="948.5" y="100.6" font-size="10" text-anchor="end" font-weight="normal" fill="#2d2d2d" >20</text>
<line x1="952.9" y1="86.83" x2="955.9" y2="86.83" stroke="#6d6d6d"/>
<line x1="952.9" y1="76.65" x2="956.9" y2="76.65" stroke="#6d6d6d"/>
<text x="948.5" y="80.25" font-size="10" text-anchor="end" font-weight="normal" fill="#2d2d2d" >25</text>
<text x="962" y="197.8" font-size="10" text-anchor="middle" font-weight="normal" fill="#2d2d2d" >1</text>
<text x="981.03" y="197.8" font-size="10" text-anchor="middle" font-weight="normal" fill="#2d2d2d" >2</text>
<text x="1000.06" y="197.8" font-size="10" text-anchor="middle" font-weight="normal" fill="#2d2d2d" >3</text>
<text x="1019.09" y="197.8" font-size="10" text-anchor="middle" font-weight="normal" fill="#2d2d2d" >4</text>
<text x="1038.12" y="197.8" font-size="10" text-anchor="middle" font-weight="normal" fill="#2d2d2d" >5</text>
<text x="1057.15" y="197.8" font-size="10" text-anchor="middle" font-weight="normal" fill="#2d2d2d" >6</text>
<text x="1009.5" y="208.9" font-size="10" text-anchor="middle" font-weight="normal" fill="#2d2d2d" textLength="24.5">Steps</text>
<text transform="translate(930,128.5) rotate(-90)" font-size="10" text-anchor="middle" fill="#2d2d2d">Current (μA)</text>
<path d="M962,178.4 L981.03,86.83 L1000.06,175.14 L1019.09,93.74 L1038.12,173.31 L1057.15,95.37" stroke="#333" stroke-width="0.9" stroke-dasharray="2 1.6" fill="none"/>
<path d="M962,174.3 V182.3 M960,174.3 h4 M960,182.3 h4" stroke="#1a1aff" stroke-width="0.8" fill="none" opacity="0.8"/>
<rect x="959.8" y="176.2" width="4.4" height="4.4" fill="#1a1aff"/>
<path d="M981.03,79.4 V92 M979.03,79.4 h4 M979.03,92 h4" stroke="#e0101a" stroke-width="0.8" fill="none" opacity="0.8"/>
<circle cx="981.03" cy="86.83" r="2.3" fill="#e0101a"/>
<path d="M1000.06,170 V179.4 M998.06,170 h4 M998.06,179.4 h4" stroke="#1a1aff" stroke-width="0.8" fill="none" opacity="0.8"/>
<rect x="997.86" y="172.94" width="4.4" height="4.4" fill="#1a1aff"/>
<path d="M1019.09,85.1 V101.4 M1017.09,85.1 h4 M1017.09,101.4 h4" stroke="#e0101a" stroke-width="0.8" fill="none" opacity="0.8"/>
<circle cx="1019.09" cy="93.74" r="2.3" fill="#e0101a"/>
<path d="M1038.12,167.1 V177.7 M1036.12,167.1 h4 M1036.12,177.7 h4" stroke="#1a1aff" stroke-width="0.8" fill="none" opacity="0.8"/>
<rect x="1035.92" y="171.11" width="4.4" height="4.4" fill="#1a1aff"/>
<path d="M1057.15,87.7 V103.4 M1055.15,87.7 h4 M1055.15,103.4 h4" stroke="#e0101a" stroke-width="0.8" fill="none" opacity="0.8"/>
<circle cx="1057.15" cy="95.37" r="2.3" fill="#e0101a"/>
<!--END_E-->
<text x="101" y="341.9" font-size="14" text-anchor="middle" font-weight="normal" fill="#2d2d2d" textLength="93.4">Ligand-binding</text>
<text x="101" y="357.2" font-size="14" text-anchor="middle" font-weight="normal" fill="#2d2d2d" textLength="46">domain</text>
<path d="M68.5,397.8 H80.6 A23.2,25.2 0 0 0 127,397.8 H136.6 A12,12 0 0 1 148.6,409.8 V461.2 A12,12 0 0 1 136.6,473.2 H68.5 A12,12 0 0 1 56.5,461.2 V409.8 A12,12 0 0 1 68.5,397.8 Z" fill="#e07c00" stroke="#1a1a1a" stroke-width="1.1"/>
<path d="M67.4,473.4 C67.6,479 59,485 57.5,489 C57,491 57.2,492 57.2,493" stroke="#1a1a1a" stroke-width="1.5" fill="none"/>
<path d="M130.6,473.4 C130.8,479 137,485 137.6,489 C137.8,491 137.7,492 137.7,494" stroke="#1a1a1a" stroke-width="1.5" fill="none"/>
<text x="54.2" y="508.8" font-size="13" text-anchor="middle" font-weight="normal" fill="#2d2d2d" >N</text>
<text x="140" y="508.8" font-size="13" text-anchor="middle" font-weight="normal" fill="#2d2d2d" >C</text>
<path d="M199.5,439.9 H258" stroke="#000" stroke-width="2.1"/><path d="M256.5,436.6 L264.7,439.9 L256.5,443.2 Z" fill="#000"/>
<text x="237.3" y="423.2" font-size="14" text-anchor="middle" font-weight="normal" fill="#2d2d2d" textLength="48.7">Circular</text>
<text x="237.5" y="464.8" font-size="14" text-anchor="middle" font-weight="normal" fill="#2d2d2d" textLength="75.9">permutation</text>
<path d="M340,478 A30,28 0 0 0 400,478" stroke="#000" stroke-width="2" fill="none"/>
<path d="M323.14,413.09 L323.94,411.93 L325.12,410.78 L326.43,409.04 L326.88,408.61 L328.18,406.8 L329.47,405.86 L331.78,404.92 L333.09,404.05 L335.11,403.97 L336.59,403.59 L338.27,404.26 L339.84,404.08 L341.66,403.35 L343.43,403.83 L344.85,403.68 L345.56,404.75 L346.66,406.76 L347.93,408.54 L348.47,410.38 L349.96,411.66 L351.22,412.61 L352.17,413.39 L353.48,414.43 L354.8,414.9 L356.09,415.86 L356.25,417.33 L357.98,418.91 L358.42,420.33 L360.36,420.73 L362.05,421.42 L363.85,422.14 L364.61,423.49 L365.74,425.08 L366.75,426.37 L367.83,427.7 L368.37,428.47 L369.68,427 L371,426.68 L372.17,425.15 L372.9,423.95 L374.56,422.94 L376.12,422.57 L377.02,421.34 L379.04,421.54 L380.13,420.33 L381.08,419.73 L382.76,418.17 L384,417.89 L385.56,416.71 L386.24,414.75 L386.28,413.24 L386.47,412.19 L387.95,410.75 L389.38,410.14 L390.27,408.89 L391.34,406.7 L392.8,405.86 L394.71,404.93 L396.12,404.86 L398.34,404.16 L400.04,404.05 L401.39,404.87 L403.47,405.41 L405.86,405.28 L407.27,405.86 L408.14,407.23 L409.23,408.67 L410.05,410.05 L410.89,411.28 L412.24,412.8 L412.63,414.52 L413.61,415.81 L412.98,417.24 L413.36,419.08 L412.57,420.2 L412.07,422.4 L411.8,423.95 L411.32,425.62 L411.93,426.61 L411.92,428.57 L411.98,430 L412,431.94 L411.32,432.81 L411.8,434.8 L410.71,436.53 L409.02,437.29 L408.09,438.42 L406.6,439.68 L405.46,441.14 L406.54,442.74 L407.68,444.03 L409.08,445.66 L409.58,447 L409.61,449.51 L409.57,450.81 L409.99,452.9 L410.44,454.14 L409.98,455.85 L410.64,457.02 L410.41,458.76 L411.08,460.37 L410.89,461.94 L411.79,463.06 L411.82,464.99 L412.91,466.24 L412.79,467.35 L413.61,469.18 L412.96,470.23 L412.56,472.23 L411.25,473.03 L410.89,474.61 L409.65,475.01 L408.1,474.97 L405.87,475.18 L404.98,475.41 L402.99,475.82 L401.51,476.07 L400.04,476.42 L398.95,475.92 L396.53,476.56 L395.89,476.45 L393.94,476.27 L392.93,475.39 L390.99,475.51 L389.73,476.15 L388.14,476.14 L386.26,476.26 L384.69,476.29 L383.54,476.81 L381.94,477.32 L380.67,477.32 L379.18,478.42 L377.62,479.08 L376.01,479.21 L373.54,479.83 L372.12,479.84 L371.03,480.51 L369.28,480.94 L367.68,481.23 L366.38,480.48 L364.51,480.85 L363.23,480.62 L361.59,479.89 L360.23,480.04 L358.68,480.13 L356.74,479.88 L355.9,479.66 L354.22,478.64 L352.45,479.27 L350.28,478.45 L348.92,478.48 L347.57,478.23 L345.88,478.3 L344.63,477.93 L342.3,478.16 L340.76,478.2 L340,479.08 L337.5,478.83 L336.13,478.75 L334.55,479.18 L333.09,479.13 L331.73,478.27 L329.89,477.51 L328.37,477.02 L327.52,476.12 L325.86,475.51 L324.76,473.61 L324.37,472.45 L324.1,470.64 L323.14,469.18 L323.57,467.75 L323.33,465.95 L323.53,464.73 L323.58,463.17 L323.75,461.17 L323.95,460.07 L324.05,458.33 L324.07,456.44 L324.88,455.09 L325.84,452.77 L325.86,451.09 L327.76,450.47 L328.63,449.24 L330.38,448.37 L329.28,447.06 L329.09,445.5 L328.5,443.66 L327.72,441.92 L326.76,440.23 L325.85,438.77 L325.23,436.77 L325.48,435.12 L324.28,433.63 L324.56,432.16 L323.18,431.27 L323.14,429.38 L322.76,428.21 L323.32,426.7 L323.59,424.93 L323.44,422.88 L323.41,421.85 L323.14,420.33 L323.36,418.13 L323.39,417.15 L322.7,414.73Z" fill="#e07c00" stroke="#1a1a1a" stroke-width="1.1" stroke-linejoin="round"/>
<path d="M308.6,403.3 C309.73,402.43 313.27,400.17 315.4,398.1 C317.53,396.03 318.53,392.6 321.4,390.9 C324.27,389.2 329.45,388.62 332.6,387.9 C335.75,387.18 337.38,385.9 340.3,386.6 C343.22,387.3 348.47,391.18 350.1,392.1" stroke="#3a3a3a" stroke-width="0.8" fill="none"/>
<path d="M313.7,408 C315.42,406.28 319.85,399.98 324,397.7 C328.15,395.42 334.47,394.15 338.6,394.3 C342.73,394.45 347.1,397.88 348.8,398.6" stroke="#3a3a3a" stroke-width="0.8" fill="none"/>
<path d="M320.1,411.4 C321.6,409.9 325.32,404.25 329.1,402.4 C332.88,400.55 339.43,400.08 342.8,400.3 C346.17,400.52 348.22,403.13 349.3,403.7" stroke="#3a3a3a" stroke-width="0.8" fill="none"/>
<path d="M387.3,388.3 C388.23,388.37 390.12,388.92 392.9,388.7 C395.68,388.48 399.72,385.85 404,387 C408.28,388.15 414.82,392.32 418.6,395.6 C422.38,398.88 425.35,404.85 426.7,406.7" stroke="#3a3a3a" stroke-width="0.8" fill="none"/>
<path d="M388.6,396.4 C391.02,396.18 398.82,394.38 403.1,395.1 C407.38,395.82 411.22,398.05 414.3,400.7 C417.38,403.35 420.38,409.28 421.6,411" stroke="#3a3a3a" stroke-width="0.8" fill="none"/>
<path d="M389.4,401.1 C391.27,400.97 397.03,399.8 400.6,400.3 C404.17,400.8 408.17,401.97 410.8,404.1 C413.43,406.23 415.47,411.6 416.4,413.1" stroke="#3a3a3a" stroke-width="0.8" fill="none"/>
<path d="M310.6,452 C310.68,453.43 311.77,457.83 311.1,460.6 C310.43,463.37 307.27,465.75 306.6,468.6 C305.93,471.45 304.92,473.7 307.1,477.7 C309.28,481.7 317.6,490.12 319.7,492.6" stroke="#3a3a3a" stroke-width="0.8" fill="none"/>
<path d="M315.7,453.1 C315.8,454.35 316.87,457.83 316.3,460.6 C315.73,463.37 312.68,466.85 312.3,469.7 C311.92,472.55 312.1,474.93 314,477.7 C315.9,480.47 322.08,484.87 323.7,486.3" stroke="#3a3a3a" stroke-width="0.8" fill="none"/>
<path d="M321.4,454.9 C321.5,456.03 322.47,459.23 322,461.7 C321.53,464.17 318.88,467.22 318.6,469.7 C318.32,472.18 318.78,474.4 320.3,476.6 C321.82,478.8 326.47,481.85 327.7,482.9" stroke="#3a3a3a" stroke-width="0.8" fill="none"/>
<path d="M412,453.1 C412.95,455.02 417.13,461.07 417.7,464.6 C418.27,468.13 415.78,472.68 415.4,474.3" stroke="#3a3a3a" stroke-width="0.8" fill="none"/>
<path d="M417.1,450.9 C418.15,453.08 422.82,459.92 423.4,464 C423.98,468.08 421.07,473.5 420.6,475.4" stroke="#3a3a3a" stroke-width="0.8" fill="none"/>
<path d="M421.1,448 C422.35,450.95 427.93,460.75 428.6,465.7 C429.27,470.65 425.68,475.7 425.1,477.7" stroke="#3a3a3a" stroke-width="0.8" fill="none"/>
<path d="M413.8,415.3 C414.6,415.43 416.38,416.68 418.6,416.1 C420.82,415.52 424.25,412.8 427.1,411.8 C429.95,410.8 434.27,410.38 435.7,410.1" stroke="#000" stroke-width="1.8" fill="none"/>
<path d="M412.6,476 C413.55,476.28 416.02,476.08 418.3,477.7 C420.58,479.32 423.25,483.6 426.3,485.7 C429.35,487.8 434.88,489.53 436.6,490.3" stroke="#000" stroke-width="1.8" fill="none"/>
<text x="443.5" y="415.8" font-size="13" text-anchor="middle" font-weight="normal" fill="#2d2d2d" >N</text>
<text x="444" y="496.7" font-size="13" text-anchor="middle" font-weight="normal" fill="#2d2d2d" >C</text>
<path d="M539.36,363 L538.99,363.79 L538.59,364.57 L538.18,365.34 L537.75,366.1 L537.3,366.85 L536.83,367.59 L536.35,368.32 L535.85,369.04 L535.34,369.75 L534.81,370.44 L534.26,371.13 L533.7,371.8 L533.13,372.46 L532.54,373.1 L531.93,373.73 L531.31,374.35 L530.68,374.96 L530.04,375.55 L529.38,376.12 L528.71,376.68 L528.02,377.23 L527.32,377.76 L526.62,378.27 L525.9,378.77 L525.17,379.25 L524.42,379.71 L523.67,380.16 L522.91,380.59 L522.14,381 L521.36,381.4 L520.57,381.78 L519.77,382.14 L518.97,382.48 L518.16,382.8 L517.34,383.11 L516.51,383.39 L515.68,383.66 L514.84,383.91 L514,384.14 L513.15,384.35 L512.29,384.55 L511.44,384.72 L510.58,384.87 L509.71,385.01 L508.84,385.12 L507.97,385.22 L507.1,385.29 L506.23,385.35 L505.36,385.38 L504.48,385.4 L503.61,385.4 L502.73,385.37 L501.86,385.33 L500.99,385.27 L500.12,385.18 L499.25,385.08 L498.38,384.96 L497.52,384.82 L496.66,384.66 L495.8,384.48 L494.95,384.28 L494.1,384.06 L493.26,383.83 L492.43,383.57 L491.59,383.3 L490.77,383 L489.95,382.69 L489.14,382.36 L488.34,382.01 L487.55,381.64 L486.76,381.26 L485.98,380.86 L485.22,380.44 L484.46,380 L483.71,379.55 L482.97,379.08 L482.25,378.59 L481.53,378.09 L480.83,377.57 L480.13,377.04 L479.45,376.49 L478.79,375.92 L478.13,375.34 L477.49,374.74 L476.86,374.14 L476.25,373.51 L475.65,372.88 L475.07,372.23 L474.5,371.56 L473.94,370.89 L473.4,370.2 L472.88,369.5 L472.37,368.79 L471.88,368.06 L471.4,367.33 L470.94,366.58 L470.5,365.83 L470.08,365.06 L469.67,364.29 L469.28,363.51 L468.91,362.72 L468.55,361.92 L468.21,361.11 L467.9,360.29 L467.6,359.47 L467.32,358.64 L467.05,357.81 L466.81,356.97 L466.59,356.12 L466.38,355.27 L466.2,354.42 L466.03,353.56 L465.88,352.7 L465.75,351.83 L465.65,350.96 L465.56,350.09 L465.49,349.22 L465.44,348.35 L465.41,347.47 L465.4,346.6 L465.41,345.73 L465.44,344.85 L465.49,343.98 L465.56,343.11 L465.65,342.24 L465.75,341.37 L465.88,340.5 L466.03,339.64 L466.2,338.78 L466.38,337.93 L466.59,337.08 L466.81,336.23 L467.05,335.39 L467.32,334.56 L467.6,333.73 L467.9,332.91 L468.21,332.09 L468.55,331.28 L468.91,330.48 L469.28,329.69 L469.67,328.91 L470.08,328.14 L470.5,327.37 L470.94,326.62 L471.4,325.87 L471.88,325.14 L472.37,324.41 L472.88,323.7 L473.4,323 L473.94,322.31 L474.5,321.64 L475.07,320.97 L475.65,320.32 L476.25,319.69 L476.86,319.06 L477.49,318.46 L478.13,317.86 L478.79,317.28 L479.45,316.71 L480.13,316.16 L480.83,315.63 L481.53,315.11 L482.25,314.61 L482.97,314.12 L483.71,313.65 L484.46,313.2 L485.22,312.76 L485.98,312.34 L486.76,311.94 L487.55,311.56 L488.34,311.19 L489.14,310.84 L489.95,310.51 L490.77,310.2 L491.59,309.9 L492.43,309.63 L493.26,309.37 L494.1,309.14 L494.95,308.92 L495.8,308.72 L496.66,308.54 L497.52,308.38 L498.38,308.24 L499.25,308.12 L500.12,308.02 L500.99,307.93 L501.86,307.87 L502.73,307.83 L503.61,307.8 L504.48,307.8 L505.36,307.82 L506.23,307.85 L507.1,307.91 L507.97,307.98 L508.84,308.08 L509.71,308.19 L510.58,308.33 L511.44,308.48 L512.29,308.65 L513.15,308.85 L514,309.06 L514.84,309.29 L515.68,309.54 L516.51,309.81 L517.34,310.09 L518.16,310.4 L518.97,310.72 L519.77,311.06 L520.57,311.42 L521.36,311.8 L522.14,312.2 L522.91,312.61 L523.67,313.04 L524.42,313.49 L525.17,313.95 L525.9,314.43 L526.62,314.93 L527.32,315.44 L528.02,315.97 L528.71,316.52 L529.38,317.08 L530.04,317.65 L530.68,318.24 L531.31,318.85 L531.93,319.47 L532.54,320.1 L533.13,320.74 L533.7,321.4 L534.26,322.07 L534.81,322.76 L535.34,323.45 L535.85,324.16 L536.35,324.88 L536.83,325.61 L537.3,326.35 L537.75,327.1 L538.18,327.86 L538.59,328.63 L538.99,329.41 L539.36,330.2 L517.4,347.2Z" fill="#d71b12" stroke="#1a1a1a" stroke-width="1"/>
<text x="504.5" y="302.4" font-size="14" text-anchor="middle" font-weight="normal" fill="#2d2d2d" textLength="53.2">Reporter</text>
<path d="M503.9,389.9 C504.25,392.42 505.12,400.3 506,405 C506.88,409.7 507.38,413.12 509.2,418.1 C511.02,423.08 513.6,430.97 516.9,434.9 C520.2,438.83 524.98,440.27 529,441.7 C533.02,443.13 539,443.2 541,443.5" stroke="#000" stroke-width="2" fill="none"/>
<path d="M440.4,441 L541,444.3" stroke="#000" stroke-width="2.1"/><path d="M540,440.6 L548.5,444.5 L539.8,448 Z" fill="#000"/>
<path d="M571,471 A23.8,19 0 0 0 618.6,471" stroke="#000" stroke-width="1.8" fill="none"/>
<path d="M628.7,423.5 C630.05,422.63 633.92,419.13 636.8,418.3 C639.68,417.47 644.47,418.47 646,418.5" stroke="#000" stroke-width="1.2" fill="none"/>
<path d="M627.8,456.5 C628.67,457.25 630.8,459.58 633,461 C635.2,462.42 639.67,464.33 641,465" stroke="#000" stroke-width="1.2" fill="none"/>
<path d="M554.52,415.38 L555.54,414.51 L556.6,413.61 L557.45,412.5 L557.72,411.01 L559.05,409.95 L560.89,409.54 L562.3,408.52 L563.36,408.09 L564.88,407.85 L566.28,407.24 L567.43,407.21 L569.25,408.06 L571.27,407.61 L572.62,408.14 L573.49,409.32 L573.93,410.82 L574.43,412.67 L575.18,413.9 L576.58,414.22 L578.48,415.71 L579.06,416.7 L580.49,417.35 L581.66,418.09 L582.66,419.58 L584.37,420.68 L585.82,421.17 L586.6,422.13 L588,423.52 L588.81,424.26 L590.08,425.88 L590.94,427.07 L592.52,428.04 L593.5,426.97 L595.07,426.22 L595.75,425.31 L597.04,424.43 L598.52,423.38 L600.05,422.7 L601.14,422.8 L601.78,422.1 L603.38,421.27 L604.35,420.14 L606.09,419.9 L606.25,418.95 L606.72,417.42 L607.83,416.23 L607.9,414.47 L608.84,413.08 L610.09,412.19 L610.8,410.9 L612.51,409.73 L613.33,408.14 L614.42,408.54 L615.97,408 L617.95,408.52 L619.21,408.52 L620.9,407.97 L622.37,408.14 L623.29,408.94 L624.16,410 L625.8,411.85 L626.41,412.08 L627.8,413.57 L629.14,415.11 L629.52,416.35 L630.51,418.09 L630.06,419.83 L629.39,420.92 L628.49,422.81 L627.92,423.88 L627.8,425.33 L628.1,426.45 L628.01,428.63 L627.92,429.93 L627.45,431.06 L627.8,432.57 L626.58,434.14 L625.81,435.06 L625.54,436.68 L624.61,437.59 L623.28,438.9 L624.17,440.24 L625.07,440.97 L625.9,441.97 L626.9,443.42 L626.94,445.37 L627.61,446.55 L627.35,447.8 L627.13,449.25 L627.9,451.29 L627.8,452.47 L628.06,454.15 L628.82,455.49 L629.11,456.97 L629.23,458.34 L629.54,459.56 L630.37,461.17 L630.51,462.42 L629.42,464.18 L628.84,465.21 L627.36,466.53 L626.9,467.85 L625.09,468.46 L623.7,469.04 L622.28,469.47 L620.56,469.66 L619.02,469.59 L617.96,469.55 L616.21,469.36 L615.27,469.02 L613.96,469.06 L612.14,468.48 L610.41,468.55 L609.7,468.03 L607.9,467.85 L606.62,468.5 L605.21,468.46 L603.81,469.28 L602.26,469.59 L600.77,470.36 L599.34,470.76 L597.34,470.71 L596.27,471.6 L594.62,472.09 L593.42,472.37 L592.13,471.86 L590.58,471.92 L588.8,471.74 L587.63,471.68 L586.11,471.45 L584.95,471.66 L583.67,471.75 L581.93,471.93 L580.76,471.47 L578.76,471.12 L577.46,470.87 L575.76,470.99 L574.44,470.02 L573.11,469.81 L571.49,469.77 L569.9,469.66 L568.51,470.07 L567.25,469.59 L565.77,469.79 L563.9,469.34 L562.64,469.72 L561.49,470.08 L559.71,469.52 L558.14,469.66 L557.59,468.08 L555.98,467.46 L555.53,465.94 L554.52,465.13 L554.64,463.94 L554.41,461.97 L554.28,460.29 L554.95,458.82 L554.94,457.75 L554.61,455.61 L554.52,454.28 L555.41,452.69 L555.35,450.95 L556.32,449.52 L556.33,447.95 L557.27,446.79 L558.25,445.79 L559.67,444.37 L560.86,443.42 L559.98,442.59 L558.16,441.19 L557.26,440.42 L556.33,438.9 L556.28,437.16 L555.52,435.57 L555.87,434.19 L555.22,432.85 L554.96,431.45 L554.52,429.85 L554.74,427.88 L554.76,426.42 L554.55,424.82 L554.34,423.37 L554.52,421.71 L554.49,420 L554.74,418.63 L554.11,416.74Z" fill="#e07c00" stroke="#1a1a1a" stroke-width="1.1" stroke-linejoin="round"/>
<path d="M741.07,465.39 L740.22,466.41 L739.85,467.62 L739.54,468.88 L738.95,470 L738.08,470.98 L737.17,471.91 L736.55,473 L735.8,474.01 L735.13,475.07 L734.74,476.33 L733.72,477.14 L733.42,478.5 L732.71,479.56 L731.52,480.22 L730.89,481.35 L730.08,482.33 L728.9,482.94 L728.09,483.92 L727.27,484.89 L725.82,485.16 L724.97,486.09 L723.7,486.5 L722.87,487.45 L721.99,488.37 L720.74,488.75 L719.7,489.44 L718.77,490.3 L717.96,491.37 L716.77,491.82 L715.75,492.56 L714.8,493.46 L713.79,494.29 L712.48,494.48 L711.3,494.91 L710.16,495.48 L708.83,495.51 L707.74,496.21 L706.46,496.32 L705.35,497 L704.21,497.62 L702.85,497.38 L701.72,498.08 L700.5,498.43 L699.21,498.4 L697.99,498.72 L696.8,499.41 L695.54,499.56 L694.22,499.05 L692.98,499.53 L691.72,499.72 L690.44,499.21 L689.18,499.43 L687.93,498.94 L686.67,499.03 L685.4,499.08 L684.16,498.82 L682.9,498.73 L681.74,498.01 L680.48,497.94 L679.19,498.05 L678,497.62 L676.78,497.3 L675.56,497.03 L674.21,497.17 L673.06,496.61 L671.96,495.92 L670.57,496.06 L669.5,495.33 L668.31,494.91 L667.23,494.23 L666.04,493.8 L664.98,493.11 L663.97,492.33 L662.71,492.02 L661.82,491.05 L660.5,490.8 L659.73,489.68 L658.38,489.42 L657.33,488.72 L656.44,487.8 L655.35,487.15 L654.59,486.1 L653.41,485.54 L652.61,484.54 L651.78,483.59 L650.49,483.09 L649.86,481.95 L648.98,481.05 L647.85,480.36 L647.27,479.19 L646.31,478.34 L645.84,477.1 L644.77,476.32 L644.47,474.99 L644,473.8 L642.88,473.01 L642.8,471.6 L641.75,470.75 L641.12,469.66 L640.73,468.45 L640.46,467.19 L639.78,466.12 L639.05,465.07 L638.34,463.99 L637.68,462.88 L637.02,461.77 L637.1,460.41 L637.01,459.12 L636.56,457.93 L636.73,456.6 L636.66,455.33 L636.22,454.15 L635.95,452.93 L636.17,451.63 L635.64,450.44 L635.17,449.23 L634.83,447.99 L634.84,446.72 L634.29,445.47 L634.69,444.2 L634.31,442.93 L634.36,441.65 L634.47,440.38 L634.98,439.15 L635.53,437.94 L635.84,436.72 L635.77,435.44 L636.26,434.26 L636.17,432.96 L636.77,431.81 L636.54,430.46 L637.2,429.34 L637.67,428.17 L637.95,426.94 L638.22,425.71 L638.65,424.53 L639.29,423.43 L639.96,422.36 L640.29,421.13 L640.52,419.85 L641.28,418.82 L641.52,417.52 L642.58,416.67 L642.54,415.18 L643.2,414.09 L644.06,413.13 L644.8,412.1 L645.59,411.11 L646.23,410.01 L647.58,409.47 L648.17,408.32 L649.12,407.48 L650.11,406.69 L650.75,405.56 L651.59,404.61 L652.71,403.97 L653.27,402.7 L654.25,401.9 L655.15,401 L656.07,400.11 L657.35,399.71 L658.22,398.75 L659.45,398.3 L660.42,397.48 L661.83,397.37 L662.79,396.52 L663.97,396.07 L665.14,395.6 L666.18,394.88 L667.53,394.82 L668.47,393.86 L669.58,393.26 L670.69,392.65 L671.9,392.3 L673.14,392.05 L674.31,391.56 L675.44,390.93 L676.74,390.92 L677.99,390.75 L679.18,390.33 L680.41,390.05 L681.65,389.83 L682.95,390.03 L684.14,389.37 L685.42,389.57 L686.65,389.16 L687.94,389.64 L689.18,388.93 L690.44,389.16 L691.71,388.89 L692.98,388.89 L694.24,389.02 L695.46,389.58 L696.74,389.48 L697.99,389.67 L699.31,389.45 L700.48,390.06 L701.72,390.31 L702.92,390.72 L704.13,391.09 L705.48,390.97 L706.67,391.41 L707.71,392.29 L708.96,392.53 L710.05,393.2 L711.22,393.66 L712.34,394.25 L713.56,394.59 L714.58,395.37 L715.71,395.91 L716.9,396.35 L717.87,397.19 L719.02,397.72 L720.25,398.14 L720.9,399.41 L721.93,400.12 L723.21,400.49 L723.87,401.68 L724.93,402.36 L726.16,402.85 L727,403.8 L727.74,404.84 L728.56,405.79 L729.55,406.58 L730.41,407.48 L731.51,408.18 L732.44,409.05 L733.17,410.09 L734.07,410.99 L734.93,411.93 L735.75,412.91 L736.6,413.87 L737.44,414.86 L737.66,416.2 L738.48,417.2 L739.03,418.35 L739.76,419.41 L740.11,420.65 L740.37,421.93 L740.99,423.04 L738.38,424.94 L735.3,426.84 L732.88,428.45 L730.52,430.1 L727.73,431.94 L725.1,433.65 L722.61,435.4 L719.96,437.23 L717.19,439.08 L714.33,441.2 L711.69,443.09 L709.2,444.5 L711.86,445.91 L714.47,447.9 L717.16,449.8 L719.97,451.45 L722.69,453.17 L725.14,454.96 L727.7,456.86 L730.4,458.62 L732.97,460.14 L735.61,461.83 L738.3,463.6Z" fill="#5a58fc" stroke="#1a1a1a" stroke-width="1.1" stroke-linejoin="round"/>
<text x="695.4" y="514.1" font-size="14" text-anchor="middle" font-weight="normal" fill="#2d2d2d" textLength="48.6">Inactive</text>
<circle cx="790" cy="364.7" r="10.5" fill="#bf00de" stroke="#1a1a1a" stroke-width="1.1"/><circle cx="807.8" cy="382.5" r="10.5" fill="#bf00de" stroke="#1a1a1a" stroke-width="1.1"/><circle cx="790" cy="400.3" r="10.5" fill="#bf00de" stroke="#1a1a1a" stroke-width="1.1"/><circle cx="772.2" cy="382.5" r="10.5" fill="#bf00de" stroke="#1a1a1a" stroke-width="1.1"/><rect x="778.96" y="371.46" width="22.07" height="22.07" fill="#bf00de"/><circle cx="790" cy="364.7" r="9.9" fill="#bf00de"/><circle cx="807.8" cy="382.5" r="9.9" fill="#bf00de"/><circle cx="790" cy="400.3" r="9.9" fill="#bf00de"/><circle cx="772.2" cy="382.5" r="9.9" fill="#bf00de"/>
<text x="788.6" y="345.3" font-size="14" text-anchor="middle" font-weight="normal" fill="#2d2d2d" textLength="41.3">Ligand</text>
<path d="M768.8,432 H818" stroke="#000" stroke-width="2"/><path d="M817,428.8 L824.8,432 L817,435.2 Z" fill="#000"/>
<path d="M776,447.5 H824" stroke="#000" stroke-width="2"/><path d="M776.6,444.3 L768.8,447.5 L776.6,450.7 Z" fill="#000"/>
<path d="M872,469 A24.4,21.5 0 0 0 920.7,469" stroke="#000" stroke-width="1.8" fill="none"/>
<path d="M932.5,417.5 C933.75,416.67 937.17,413.5 940,412.5 C942.83,411.5 947.92,411.67 949.5,411.5" stroke="#000" stroke-width="1.2" fill="none"/>
<path d="M933,449.3 C934,450.25 936.58,453.38 939,455 C941.42,456.62 946.08,458.33 947.5,459" stroke="#000" stroke-width="1.2" fill="none"/>
<path d="M868.7,412.5 H879.1 A18.2,19.2 0 0 0 915.5,412.5 H925.2 A7.5,7.5 0 0 1 932.7,420 V462.4 A7.5,7.5 0 0 1 925.2,469.9 H868.7 A7.5,7.5 0 0 1 861.2,462.4 V420 A7.5,7.5 0 0 1 868.7,412.5 Z" fill="#e07c00" stroke="#1a1a1a" stroke-width="1.1"/>
<circle cx="897.5" cy="380" r="10.4" fill="#bf00de" stroke="#1a1a1a" stroke-width="1.1"/><circle cx="914.8" cy="397.3" r="10.4" fill="#bf00de" stroke="#1a1a1a" stroke-width="1.1"/><circle cx="897.5" cy="414.6" r="10.4" fill="#bf00de" stroke="#1a1a1a" stroke-width="1.1"/><circle cx="880.2" cy="397.3" r="10.4" fill="#bf00de" stroke="#1a1a1a" stroke-width="1.1"/><rect x="886.77" y="386.57" width="21.45" height="21.45" fill="#bf00de"/><circle cx="897.5" cy="380" r="9.8" fill="#bf00de"/><circle cx="914.8" cy="397.3" r="9.8" fill="#bf00de"/><circle cx="897.5" cy="414.6" r="9.8" fill="#bf00de"/><circle cx="880.2" cy="397.3" r="9.8" fill="#bf00de"/>
<path d="M1046.86,460.41 L1046.35,461.55 L1045.8,462.67 L1045.24,463.79 L1044.65,464.89 L1044.03,465.98 L1043.39,467.05 L1042.72,468.11 L1042.03,469.15 L1041.32,470.18 L1040.58,471.19 L1039.82,472.18 L1039.04,473.16 L1038.24,474.12 L1037.41,475.06 L1036.57,475.98 L1035.7,476.88 L1034.81,477.76 L1033.91,478.62 L1032.98,479.46 L1032.04,480.28 L1031.07,481.07 L1030.09,481.85 L1029.09,482.6 L1028.08,483.33 L1027.05,484.04 L1026,484.72 L1024.94,485.38 L1023.86,486.01 L1022.77,486.62 L1021.66,487.21 L1020.54,487.77 L1019.41,488.3 L1018.27,488.81 L1017.12,489.29 L1015.95,489.75 L1014.78,490.17 L1013.59,490.58 L1012.4,490.95 L1011.2,491.3 L1009.99,491.62 L1008.78,491.91 L1007.55,492.18 L1006.33,492.41 L1005.09,492.62 L1003.86,492.81 L1002.62,492.96 L1001.37,493.08 L1000.13,493.18 L998.88,493.25 L997.63,493.29 L996.38,493.3 L995.13,493.28 L993.88,493.24 L992.63,493.16 L991.38,493.06 L990.14,492.93 L988.9,492.77 L987.66,492.59 L986.43,492.37 L985.21,492.13 L983.99,491.86 L982.77,491.56 L981.56,491.23 L980.36,490.88 L979.17,490.5 L977.99,490.09 L976.82,489.66 L975.66,489.2 L974.5,488.71 L973.36,488.2 L972.24,487.66 L971.12,487.09 L970.02,486.5 L968.93,485.89 L967.85,485.25 L966.79,484.59 L965.75,483.9 L964.72,483.19 L963.71,482.46 L962.71,481.7 L961.74,480.92 L960.78,480.12 L959.84,479.3 L958.91,478.45 L958.01,477.59 L957.13,476.7 L956.26,475.8 L955.42,474.87 L954.6,473.93 L953.8,472.97 L953.03,471.99 L952.27,470.99 L951.54,469.98 L950.83,468.95 L950.15,467.9 L949.48,466.84 L948.85,465.76 L948.24,464.67 L947.65,463.57 L947.09,462.45 L946.55,461.32 L946.04,460.18 L945.56,459.03 L945.1,457.87 L944.67,456.69 L944.26,455.51 L943.88,454.32 L943.53,453.12 L943.21,451.91 L942.92,450.7 L942.65,449.47 L942.41,448.25 L942.19,447.02 L942.01,445.78 L941.85,444.54 L941.73,443.29 L941.63,442.05 L941.56,440.8 L941.51,439.55 L941.5,438.3 L941.51,437.05 L941.56,435.8 L941.63,434.55 L941.73,433.31 L941.85,432.06 L942.01,430.82 L942.19,429.58 L942.41,428.35 L942.65,427.13 L942.92,425.9 L943.21,424.69 L943.53,423.48 L943.88,422.28 L944.26,421.09 L944.67,419.91 L945.1,418.73 L945.56,417.57 L946.04,416.42 L946.55,415.28 L947.09,414.15 L947.65,413.03 L948.24,411.93 L948.85,410.84 L949.48,409.76 L950.15,408.7 L950.83,407.65 L951.54,406.62 L952.27,405.61 L953.03,404.61 L953.8,403.63 L954.6,402.67 L955.42,401.73 L956.26,400.8 L957.13,399.9 L958.01,399.01 L958.91,398.15 L959.84,397.3 L960.78,396.48 L961.74,395.68 L962.71,394.9 L963.71,394.14 L964.72,393.41 L965.75,392.7 L966.79,392.01 L967.85,391.35 L968.93,390.71 L970.02,390.1 L971.12,389.51 L972.24,388.94 L973.36,388.4 L974.5,387.89 L975.66,387.4 L976.82,386.94 L977.99,386.51 L979.17,386.1 L980.36,385.72 L981.56,385.37 L982.77,385.04 L983.99,384.74 L985.21,384.47 L986.43,384.23 L987.66,384.01 L988.9,383.83 L990.14,383.67 L991.38,383.54 L992.63,383.44 L993.88,383.36 L995.13,383.32 L996.38,383.3 L997.63,383.31 L998.88,383.35 L1000.13,383.42 L1001.37,383.52 L1002.62,383.64 L1003.86,383.79 L1005.09,383.98 L1006.33,384.19 L1007.55,384.42 L1008.78,384.69 L1009.99,384.98 L1011.2,385.3 L1012.4,385.65 L1013.59,386.02 L1014.78,386.43 L1015.95,386.85 L1017.12,387.31 L1018.27,387.79 L1019.41,388.3 L1020.54,388.83 L1021.66,389.39 L1022.77,389.98 L1023.86,390.59 L1024.94,391.22 L1026,391.88 L1027.05,392.56 L1028.08,393.27 L1029.09,394 L1030.09,394.75 L1031.07,395.53 L1032.04,396.32 L1032.98,397.14 L1033.91,397.98 L1034.81,398.84 L1035.7,399.72 L1036.57,400.62 L1037.41,401.54 L1038.24,402.48 L1039.04,403.44 L1039.82,404.42 L1040.58,405.41 L1041.32,406.42 L1042.03,407.45 L1042.72,408.49 L1043.39,409.55 L1044.03,410.62 L1044.65,411.71 L1045.24,412.81 L1045.8,413.93 L1046.35,415.05 L1046.86,416.19 L1015.9,439.2Z" fill="#d71b12" stroke="#1a1a1a" stroke-width="1.1"/>
<text x="1002.3" y="511.9" font-size="14" text-anchor="middle" font-weight="normal" fill="#2d2d2d" textLength="38.5">Active</text>
<!--END_I-->
</svg></body></html>
